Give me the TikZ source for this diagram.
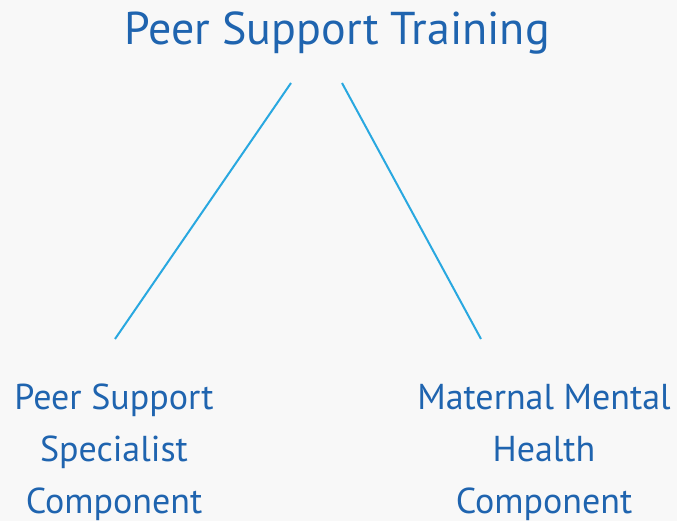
\documentclass[tikz,border=0pt]{standalone}
\usepackage{fontspec}
\setmainfont{PT Sans}
\definecolor{bg}{HTML}{F8F8F8}
\definecolor{txt}{HTML}{1F64AF}
\definecolor{ln}{HTML}{29A8E0}
\begin{document}
\begin{tikzpicture}[x=1pt,y=-1pt,
  lbl/.style={text=txt,inner sep=0pt,align=center},
  conn/.style={draw=ln,line width=2pt}]
\fill[bg] (0,0) rectangle (677,521);
\useasboundingbox (0,0) rectangle (677,521);
\node[lbl,font=\fontsize{46}{50}\selectfont,anchor=base] (title) at (337,45) {Peer Support Training};
\coordinate (t1) at (291,83);
\coordinate (t2) at (342,83);
\coordinate (b1) at (115,339);
\coordinate (b2) at (481,339);
\node[lbl,font=\fontsize{36}{52}\selectfont,anchor=base] (left) at (114,513) {Peer Support\\Specialist\\Component};
\node[lbl,font=\fontsize{36}{52}\selectfont,anchor=base] (right) at (544,513) {Maternal Mental\\Health\\Component};
\draw[conn] (t1) -- (b1);
\draw[conn] (t2) -- (b2);
\end{tikzpicture}
\end{document}
